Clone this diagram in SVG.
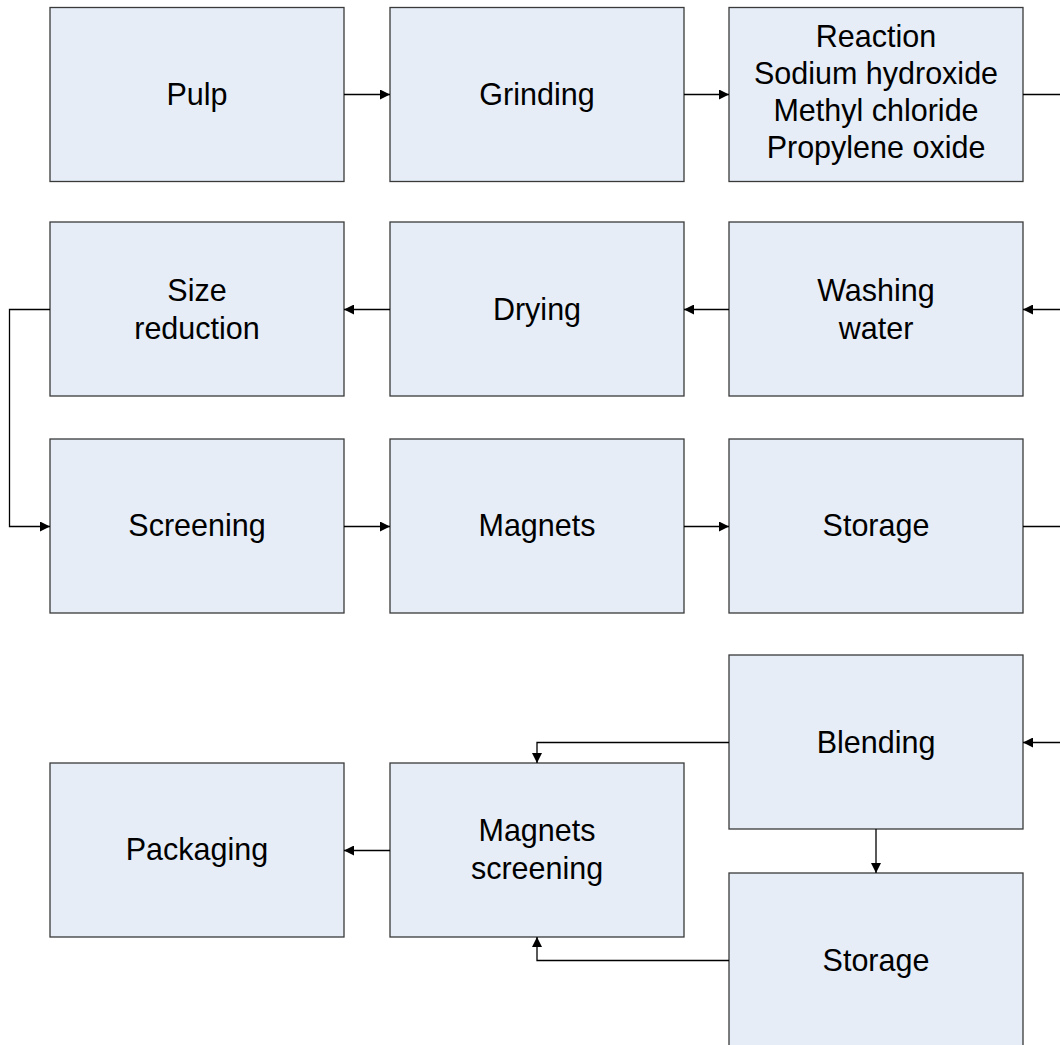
<svg xmlns="http://www.w3.org/2000/svg" width="1060" height="1045" viewBox="0 0 1060 1045">
<style>
.box{fill:#e6edf7;stroke:#3a3a3a;stroke-width:1.3}
.t{font-family:"Liberation Sans",Arial,sans-serif;font-size:30.5px;fill:#000;text-anchor:middle}
.c{fill:none;stroke:#000;stroke-width:1.3}
</style>
<defs>
<marker id="a" viewBox="0 0 10 10" refX="10" refY="5" markerWidth="10" markerHeight="10" markerUnits="userSpaceOnUse" orient="auto">
<path d="M0,0 L10,5 L0,10 z" fill="#000"/>
</marker>
</defs>
<rect width="1060" height="1045" fill="#fff"/>
<g id="pulp"><rect class="box" x="50" y="7.5" width="294" height="174"/><text class="t" x="197" y="105">Pulp</text></g>
<g id="grinding"><rect class="box" x="390" y="7.5" width="294" height="174"/><text class="t" x="537" y="105">Grinding</text></g>
<g id="reaction"><rect class="box" x="729" y="7.5" width="294" height="174"/>
<text class="t" x="876" y="47">Reaction</text>
<text class="t" x="876" y="84">Sodium hydroxide</text>
<text class="t" x="876" y="121">Methyl chloride</text>
<text class="t" x="876" y="158">Propylene oxide</text></g>
<g id="size-reduction"><rect class="box" x="50" y="222" width="294" height="174"/><text class="t" x="197" y="301">Size</text><text class="t" x="197" y="339">reduction</text></g>
<g id="drying"><rect class="box" x="390" y="222" width="294" height="174"/><text class="t" x="537" y="320">Drying</text></g>
<g id="washing"><rect class="box" x="729" y="222" width="294" height="174"/><text class="t" x="876" y="301">Washing</text><text class="t" x="876" y="339">water</text></g>
<g id="screening"><rect class="box" x="50" y="439" width="294" height="174"/><text class="t" x="197" y="536">Screening</text></g>
<g id="magnets"><rect class="box" x="390" y="439" width="294" height="174"/><text class="t" x="537" y="536">Magnets</text></g>
<g id="storage1"><rect class="box" x="729" y="439" width="294" height="174"/><text class="t" x="876" y="536">Storage</text></g>
<g id="blending"><rect class="box" x="729" y="655" width="294" height="174"/><text class="t" x="876" y="753">Blending</text></g>
<g id="packaging"><rect class="box" x="50" y="763" width="294" height="174"/><text class="t" x="197" y="860">Packaging</text></g>
<g id="magnets-screening"><rect class="box" x="390" y="763" width="294" height="174"/><text class="t" x="537" y="841">Magnets</text><text class="t" x="537" y="879">screening</text></g>
<g id="storage2"><rect class="box" x="729" y="873" width="294" height="180"/><text class="t" x="876" y="971">Storage</text></g>
<g id="connectors">
<path class="c" d="M344,94.5 H390" marker-end="url(#a)"/>
<path class="c" d="M684,94.5 H729" marker-end="url(#a)"/>
<path class="c" d="M1023,94.5 H1060"/>
<path class="c" d="M1060,309.5 H1023" marker-end="url(#a)"/>
<path class="c" d="M729,309.5 H684" marker-end="url(#a)"/>
<path class="c" d="M390,309.5 H344" marker-end="url(#a)"/>
<path class="c" d="M50,309.5 H9.5 V526.5 H50" marker-end="url(#a)"/>
<path class="c" d="M344,526.5 H390" marker-end="url(#a)"/>
<path class="c" d="M684,526.5 H729" marker-end="url(#a)"/>
<path class="c" d="M1023,526.5 H1060"/>
<path class="c" d="M1060,742.5 H1023" marker-end="url(#a)"/>
<path class="c" d="M729,742.5 H537 V763" marker-end="url(#a)"/>
<path class="c" d="M876,829 V873" marker-end="url(#a)"/>
<path class="c" d="M729,960.5 H537 V937" marker-end="url(#a)"/>
<path class="c" d="M390,850.5 H344" marker-end="url(#a)"/>
</g>
</svg>
